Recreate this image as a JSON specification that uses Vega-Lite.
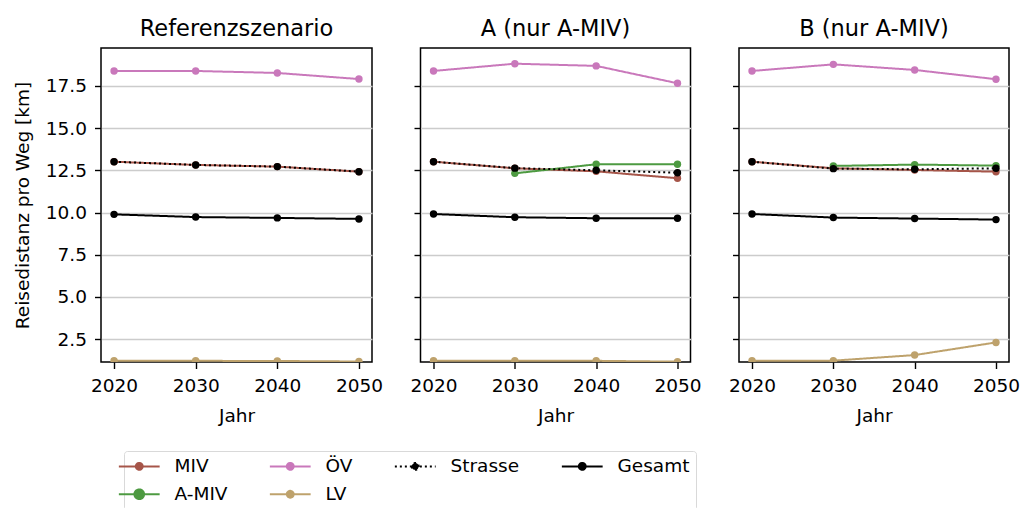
{
  "$schema": "https://vega.github.io/schema/vega-lite/v6.json",
  "background": "white",
  "padding": {"left": 12, "top": 16, "right": 5, "bottom": 0},
  "bounds": "flush",
  "spacing": 48.5,
  "datasets": {
    "d": [
      {"s": "R", "series": "MIV", "year": 2020, "v": 13.01},
      {"s": "R", "series": "MIV", "year": 2030, "v": 12.82},
      {"s": "R", "series": "MIV", "year": 2040, "v": 12.72},
      {"s": "R", "series": "MIV", "year": 2050, "v": 12.42},
      {"s": "R", "series": "ÖV", "year": 2020, "v": 18.39},
      {"s": "R", "series": "ÖV", "year": 2030, "v": 18.39},
      {"s": "R", "series": "ÖV", "year": 2040, "v": 18.27},
      {"s": "R", "series": "ÖV", "year": 2050, "v": 17.91},
      {"s": "R", "series": "LV", "year": 2020, "v": 1.22},
      {"s": "R", "series": "LV", "year": 2030, "v": 1.21},
      {"s": "R", "series": "LV", "year": 2040, "v": 1.2},
      {"s": "R", "series": "LV", "year": 2050, "v": 1.17},
      {"s": "R", "series": "Strasse", "year": 2020, "v": 13.01},
      {"s": "R", "series": "Strasse", "year": 2030, "v": 12.82},
      {"s": "R", "series": "Strasse", "year": 2040, "v": 12.72},
      {"s": "R", "series": "Strasse", "year": 2050, "v": 12.42},
      {"s": "R", "series": "Gesamt", "year": 2020, "v": 9.89},
      {"s": "R", "series": "Gesamt", "year": 2030, "v": 9.73},
      {"s": "R", "series": "Gesamt", "year": 2040, "v": 9.68},
      {"s": "R", "series": "Gesamt", "year": 2050, "v": 9.62},

      {"s": "A", "series": "MIV", "year": 2020, "v": 13.01},
      {"s": "A", "series": "MIV", "year": 2030, "v": 12.62},
      {"s": "A", "series": "MIV", "year": 2040, "v": 12.44},
      {"s": "A", "series": "MIV", "year": 2050, "v": 12.03},
      {"s": "A", "series": "A-MIV", "year": 2030, "v": 12.32},
      {"s": "A", "series": "A-MIV", "year": 2040, "v": 12.86},
      {"s": "A", "series": "A-MIV", "year": 2050, "v": 12.86},
      {"s": "A", "series": "ÖV", "year": 2020, "v": 18.39},
      {"s": "A", "series": "ÖV", "year": 2030, "v": 18.82},
      {"s": "A", "series": "ÖV", "year": 2040, "v": 18.69},
      {"s": "A", "series": "ÖV", "year": 2050, "v": 17.66},
      {"s": "A", "series": "LV", "year": 2020, "v": 1.22},
      {"s": "A", "series": "LV", "year": 2030, "v": 1.22},
      {"s": "A", "series": "LV", "year": 2040, "v": 1.21},
      {"s": "A", "series": "LV", "year": 2050, "v": 1.16},
      {"s": "A", "series": "Strasse", "year": 2020, "v": 13.01},
      {"s": "A", "series": "Strasse", "year": 2030, "v": 12.63},
      {"s": "A", "series": "Strasse", "year": 2040, "v": 12.5},
      {"s": "A", "series": "Strasse", "year": 2050, "v": 12.36},
      {"s": "A", "series": "Gesamt", "year": 2020, "v": 9.91},
      {"s": "A", "series": "Gesamt", "year": 2030, "v": 9.72},
      {"s": "A", "series": "Gesamt", "year": 2040, "v": 9.66},
      {"s": "A", "series": "Gesamt", "year": 2050, "v": 9.66},

      {"s": "B", "series": "MIV", "year": 2020, "v": 13.01},
      {"s": "B", "series": "MIV", "year": 2030, "v": 12.62},
      {"s": "B", "series": "MIV", "year": 2040, "v": 12.52},
      {"s": "B", "series": "MIV", "year": 2050, "v": 12.42},
      {"s": "B", "series": "A-MIV", "year": 2030, "v": 12.76},
      {"s": "B", "series": "A-MIV", "year": 2040, "v": 12.84},
      {"s": "B", "series": "A-MIV", "year": 2050, "v": 12.78},
      {"s": "B", "series": "ÖV", "year": 2020, "v": 18.39},
      {"s": "B", "series": "ÖV", "year": 2030, "v": 18.78},
      {"s": "B", "series": "ÖV", "year": 2040, "v": 18.45},
      {"s": "B", "series": "ÖV", "year": 2050, "v": 17.9},
      {"s": "B", "series": "LV", "year": 2020, "v": 1.22},
      {"s": "B", "series": "LV", "year": 2030, "v": 1.22},
      {"s": "B", "series": "LV", "year": 2040, "v": 1.55},
      {"s": "B", "series": "LV", "year": 2050, "v": 2.3},
      {"s": "B", "series": "Strasse", "year": 2020, "v": 13.01},
      {"s": "B", "series": "Strasse", "year": 2030, "v": 12.6},
      {"s": "B", "series": "Strasse", "year": 2040, "v": 12.56},
      {"s": "B", "series": "Strasse", "year": 2050, "v": 12.62},
      {"s": "B", "series": "Gesamt", "year": 2020, "v": 9.91},
      {"s": "B", "series": "Gesamt", "year": 2030, "v": 9.7},
      {"s": "B", "series": "Gesamt", "year": 2040, "v": 9.64},
      {"s": "B", "series": "Gesamt", "year": 2050, "v": 9.58}
    ]
  },
  "config": {
    "font": "DejaVu Sans",
    "view": {"stroke": "#000000", "strokeWidth": 1.5},
    "title": {"font": "DejaVu Sans", "fontSize": 22.5, "fontWeight": "normal", "color": "#000000", "offset": 8, "anchor": "middle"},
    "axis": {
      "labelFont": "DejaVu Sans", "labelFontSize": 18.5, "labelColor": "#000000",
      "titleFont": "DejaVu Sans", "titleFontSize": 18.5, "titleFontWeight": "normal", "titleColor": "#000000",
      "domain": false, "tickColor": "#000000", "tickWidth": 1.4, "tickSize": 6.5,
      "gridColor": "#cccccc", "gridWidth": 1.3
    },
    "legend": {
      "orient": "none", "legendX": 23, "legendY": 403,
      "direction": "horizontal", "columns": 4, "columnPadding": 37, "rowPadding": 9, "gridAlign": "each",
      "values": ["MIV", "ÖV", "Strasse", "Gesamt", "A-MIV", "LV"],
      "symbolType": "M-5.5,0H5.5M-0.92,0A0.92,0.92,0,1,0,0.92,0A0.92,0.92,0,1,0,-0.92,0Z",
      "symbolSize": 100, "symbolStrokeWidth": 2, "symbolOpacity": 1,
      "labelFont": "DejaVu Sans", "labelFontSize": 18.5, "labelColor": "#000000", "labelOffset": 26,
      "strokeColor": "#d9d9d9", "strokeWidth": 1, "padding": 6, "cornerRadius": 3, "fillColor": "#ffffff"
    }
  },
  "resolve": {"scale": {"color": "shared", "strokeDash": "shared", "size": "shared"}},
  "hconcat": [
    {
      "width": 271, "height": 314,
      "title": "Referenzszenario",
      "data": {"name": "d"},
      "transform": [{"filter": "datum.s == 'R'"}],
      "encoding": {
        "x": {"field": "year", "type": "quantitative", "scale": {"domain": [2018.4, 2051.6], "nice": false, "zero": false},
              "axis": {"values": [2020, 2030, 2040, 2050], "format": "d", "grid": false, "title": "Jahr", "labelPadding": 8, "titlePadding": 11}},
        "y": {"field": "v", "type": "quantitative", "scale": {"domain": [1.14, 19.75], "nice": false, "zero": false},
              "axis": {"values": [2.5, 5, 7.5, 10, 12.5, 15, 17.5], "format": ".1f", "grid": true, "title": "Reisedistanz pro Weg [km]", "labelPadding": 8, "titlePadding": 13}}
      },
      "layer": [
        {"mark": {"type": "line", "strokeWidth": 2, "clip": true},
         "encoding": {
           "color": {"field": "series", "type": "nominal", "title": null,
                     "scale": {"domain": ["MIV", "ÖV", "Strasse", "Gesamt", "A-MIV", "LV"], "range": ["#a65549", "#c978bb", "#000000", "#000000", "#4d9a41", "#bea26c"]},
                     "legend": {"title": null, "encode": {"symbols": {"update": {"fill": {"scale": "color", "field": "value"}, "opacity": {"value": 1}, "shape": {"signal": "datum.value === 'A-MIV' ? 'M-5.5,0H5.5M-1.3,0A1.3,1.3,0,1,0,1.3,0A1.3,1.3,0,1,0,-1.3,0Z' : 'M-5.5,0H5.5M-0.92,0A0.92,0.92,0,1,0,0.92,0A0.92,0.92,0,1,0,-0.92,0Z'"}}}}}},
           "strokeDash": {"field": "series", "type": "nominal", "title": null,
                     "scale": {"domain": ["MIV", "ÖV", "Strasse", "Gesamt", "A-MIV", "LV"], "range": [[1, 0], [1, 0], [2, 3], [1, 0], [1, 0], [1, 0]]},
                     "legend": {"title": null}}
         }},
        {"mark": {"type": "point", "filled": true, "opacity": 1, "clip": true},
         "encoding": {
           "color": {"field": "series", "type": "nominal", "title": null,
                     "scale": {"domain": ["MIV", "ÖV", "Strasse", "Gesamt", "A-MIV", "LV"], "range": ["#a65549", "#c978bb", "#000000", "#000000", "#4d9a41", "#bea26c"]},
                     "legend": {"title": null, "encode": {"symbols": {"update": {"fill": {"scale": "color", "field": "value"}, "opacity": {"value": 1}, "shape": {"signal": "datum.value === 'A-MIV' ? 'M-5.5,0H5.5M-1.3,0A1.3,1.3,0,1,0,1.3,0A1.3,1.3,0,1,0,-1.3,0Z' : 'M-5.5,0H5.5M-0.92,0A0.92,0.92,0,1,0,0.92,0A0.92,0.92,0,1,0,-0.92,0Z'"}}}}}},
           "size": {"field": "series", "type": "nominal", "legend": null,
                    "scale": {"domain": ["MIV", "ÖV", "Strasse", "Gesamt", "A-MIV", "LV"], "range": [55, 55, 55, 55, 115, 55]}}
         }}
      ]
    },
    {
      "width": 270, "height": 314,
      "title": "A (nur A-MIV)",
      "data": {"name": "d"},
      "transform": [{"filter": "datum.s == 'A'"}],
      "encoding": {
        "x": {"field": "year", "type": "quantitative", "scale": {"domain": [2018.4, 2051.6], "nice": false, "zero": false},
              "axis": {"values": [2020, 2030, 2040, 2050], "format": "d", "grid": false, "title": "Jahr", "labelPadding": 8, "titlePadding": 11}},
        "y": {"field": "v", "type": "quantitative", "scale": {"domain": [1.14, 19.75], "nice": false, "zero": false},
              "axis": {"values": [2.5, 5, 7.5, 10, 12.5, 15, 17.5], "labels": false, "grid": true, "title": null}}
      },
      "layer": [
        {"mark": {"type": "line", "strokeWidth": 2, "clip": true},
         "encoding": {
           "color": {"field": "series", "type": "nominal", "title": null,
                     "scale": {"domain": ["MIV", "ÖV", "Strasse", "Gesamt", "A-MIV", "LV"], "range": ["#a65549", "#c978bb", "#000000", "#000000", "#4d9a41", "#bea26c"]},
                     "legend": {"title": null, "encode": {"symbols": {"update": {"fill": {"scale": "color", "field": "value"}, "opacity": {"value": 1}, "shape": {"signal": "datum.value === 'A-MIV' ? 'M-5.5,0H5.5M-1.3,0A1.3,1.3,0,1,0,1.3,0A1.3,1.3,0,1,0,-1.3,0Z' : 'M-5.5,0H5.5M-0.92,0A0.92,0.92,0,1,0,0.92,0A0.92,0.92,0,1,0,-0.92,0Z'"}}}}}},
           "strokeDash": {"field": "series", "type": "nominal", "title": null,
                     "scale": {"domain": ["MIV", "ÖV", "Strasse", "Gesamt", "A-MIV", "LV"], "range": [[1, 0], [1, 0], [2, 3], [1, 0], [1, 0], [1, 0]]},
                     "legend": {"title": null}}
         }},
        {"mark": {"type": "point", "filled": true, "opacity": 1, "clip": true},
         "encoding": {
           "color": {"field": "series", "type": "nominal", "title": null,
                     "scale": {"domain": ["MIV", "ÖV", "Strasse", "Gesamt", "A-MIV", "LV"], "range": ["#a65549", "#c978bb", "#000000", "#000000", "#4d9a41", "#bea26c"]},
                     "legend": {"title": null, "encode": {"symbols": {"update": {"fill": {"scale": "color", "field": "value"}, "opacity": {"value": 1}, "shape": {"signal": "datum.value === 'A-MIV' ? 'M-5.5,0H5.5M-1.3,0A1.3,1.3,0,1,0,1.3,0A1.3,1.3,0,1,0,-1.3,0Z' : 'M-5.5,0H5.5M-0.92,0A0.92,0.92,0,1,0,0.92,0A0.92,0.92,0,1,0,-0.92,0Z'"}}}}}},
           "size": {"field": "series", "type": "nominal", "legend": null,
                    "scale": {"domain": ["MIV", "ÖV", "Strasse", "Gesamt", "A-MIV", "LV"], "range": [55, 55, 55, 55, 115, 55]}}
         }}
      ]
    },
    {
      "width": 270, "height": 314,
      "title": "B (nur A-MIV)",
      "data": {"name": "d"},
      "transform": [{"filter": "datum.s == 'B'"}],
      "encoding": {
        "x": {"field": "year", "type": "quantitative", "scale": {"domain": [2018.4, 2051.6], "nice": false, "zero": false},
              "axis": {"values": [2020, 2030, 2040, 2050], "format": "d", "grid": false, "title": "Jahr", "labelPadding": 8, "titlePadding": 11}},
        "y": {"field": "v", "type": "quantitative", "scale": {"domain": [1.14, 19.75], "nice": false, "zero": false},
              "axis": {"values": [2.5, 5, 7.5, 10, 12.5, 15, 17.5], "labels": false, "grid": true, "title": null}}
      },
      "layer": [
        {"mark": {"type": "line", "strokeWidth": 2, "clip": true},
         "encoding": {
           "color": {"field": "series", "type": "nominal", "title": null,
                     "scale": {"domain": ["MIV", "ÖV", "Strasse", "Gesamt", "A-MIV", "LV"], "range": ["#a65549", "#c978bb", "#000000", "#000000", "#4d9a41", "#bea26c"]},
                     "legend": {"title": null, "encode": {"symbols": {"update": {"fill": {"scale": "color", "field": "value"}, "opacity": {"value": 1}, "shape": {"signal": "datum.value === 'A-MIV' ? 'M-5.5,0H5.5M-1.3,0A1.3,1.3,0,1,0,1.3,0A1.3,1.3,0,1,0,-1.3,0Z' : 'M-5.5,0H5.5M-0.92,0A0.92,0.92,0,1,0,0.92,0A0.92,0.92,0,1,0,-0.92,0Z'"}}}}}},
           "strokeDash": {"field": "series", "type": "nominal", "title": null,
                     "scale": {"domain": ["MIV", "ÖV", "Strasse", "Gesamt", "A-MIV", "LV"], "range": [[1, 0], [1, 0], [2, 3], [1, 0], [1, 0], [1, 0]]},
                     "legend": {"title": null}}
         }},
        {"mark": {"type": "point", "filled": true, "opacity": 1, "clip": true},
         "encoding": {
           "color": {"field": "series", "type": "nominal", "title": null,
                     "scale": {"domain": ["MIV", "ÖV", "Strasse", "Gesamt", "A-MIV", "LV"], "range": ["#a65549", "#c978bb", "#000000", "#000000", "#4d9a41", "#bea26c"]},
                     "legend": {"title": null, "encode": {"symbols": {"update": {"fill": {"scale": "color", "field": "value"}, "opacity": {"value": 1}, "shape": {"signal": "datum.value === 'A-MIV' ? 'M-5.5,0H5.5M-1.3,0A1.3,1.3,0,1,0,1.3,0A1.3,1.3,0,1,0,-1.3,0Z' : 'M-5.5,0H5.5M-0.92,0A0.92,0.92,0,1,0,0.92,0A0.92,0.92,0,1,0,-0.92,0Z'"}}}}}},
           "size": {"field": "series", "type": "nominal", "legend": null,
                    "scale": {"domain": ["MIV", "ÖV", "Strasse", "Gesamt", "A-MIV", "LV"], "range": [55, 55, 55, 55, 115, 55]}}
         }}
      ]
    }
  ]
}
